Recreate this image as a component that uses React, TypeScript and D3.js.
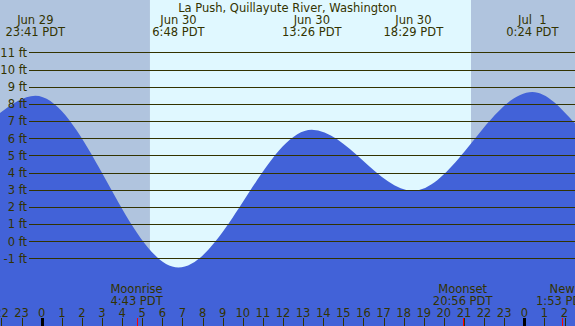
import React from "react";
import * as d3 from "d3";

const W = 575;
const H = 326;

const title = "La Push, Quillayute River, Washington";

// Tide extremes (hours relative to Jun 30 00:00 PDT)
const tideDayLabels = ["Jun 29", "Jun 30", "Jun 30", "Jun 30", "Jul  1"];
const tideClock = ["23:41", "6:48", "13:26", "18:29", "0:24"];
const tideDayOffset = [-1, 0, 0, 0, 1];
const tideHeights = [8.47, -1.53, 6.5, 2.94, 8.7];

// Heights read at the left and right edges of the picture
const edgeHeights = [7.47, 6.87];

// Sun
const sunriseClock = "5:23";
const sunsetClock = "21:21";

// Moon events
const moonLabels = ["Moonrise", "Moonset", "New"];
const moonClock = ["4:43", "20:56", "1:53"];
const moonDayOffset = [0, 0, 1];

// Axis ticks
const feetTicks = [-1, 0, 1, 2, 3, 4, 5, 6, 7, 8, 9, 10, 11];
const hourTicks = d3.range(-2, 27);

const toHours = (clock: string, dayOff: number) => {
  const [hh, mm] = clock.split(":").map(Number);
  return dayOff * 24 + hh + mm / 60;
};

const NIGHT = "#b0c4de";
const DAY = "#e0f8ff";
const WATER = "#4262d8";
const INK = "#333300";
const FONT = "DejaVu Sans";
const FS = 11.5;

export default function App() {
  const x = d3.scaleLinear().domain([0, 24]).range([41.7, 524.3]);
  const y = d3.scaleLinear().domain([-1, 11]).range([258.4, 52.4]);

  const extremes = tideClock.map((c, i) => ({
    h: toHours(c, tideDayOffset[i]),
    v: tideHeights[i],
  }));
  const pts = [
    { h: x.invert(0), v: edgeHeights[0] },
    ...extremes,
    { h: x.invert(W), v: edgeHeights[1] },
  ];

  const area = d3
    .area<{ h: number; v: number }>()
    .x((d) => x(d.h))
    .y0(H)
    .y1((d) => y(d.v))
    .curve(d3.curveMonotoneX);

  const sunrise = x(toHours(sunriseClock, 0));
  const sunset = x(toHours(sunsetClock, 0));

  const moons = moonClock.map((c, i) => ({
    label: moonLabels[i],
    clock: c,
    xpos: x(toHours(c, moonDayOffset[i])),
  }));

  const txt = {
    fontFamily: FONT,
    fontSize: FS,
    fill: INK,
    whiteSpace: "pre" as const,
  };

  return (
    <svg
      width={W}
      height={H}
      style={{ position: "absolute", left: 0, top: 0, display: "block" }}
    >
      {/* background */}
      <rect x={0} y={0} width={W} height={H} fill={NIGHT} />
      <rect x={sunrise} y={0} width={sunset - sunrise} height={H} fill={DAY} />

      {/* water */}
      <path d={area(pts) || ""} fill={WATER} />

      {/* grid lines */}
      {feetTicks.map((f) => (
        <g key={f}>
          <line
            x1={29}
            x2={W}
            y1={Math.round(y(f)) + 0.5}
            y2={Math.round(y(f)) + 0.5}
            stroke={INK}
            strokeWidth={1}
            shapeRendering="crispEdges"
          />
          <text x={27} y={y(f) + 4.3} textAnchor="end" style={txt}>
            {`${f} ft`}
          </text>
        </g>
      ))}

      {/* title */}
      <text x={W / 2} y={11.5} textAnchor="middle" style={txt}>
        {title}
      </text>

      {/* tide labels */}
      {extremes.map((e, i) => (
        <g key={i}>
          <text x={x(e.h)} y={24} textAnchor="middle" style={txt}>
            {tideDayLabels[i]}
          </text>
          <text x={x(e.h)} y={36} textAnchor="middle" style={txt}>
            {`${tideClock[i]} PDT`}
          </text>
        </g>
      ))}

      {/* hour ticks */}
      {hourTicks.map((h) => {
        const hr = ((h % 24) + 24) % 24;
        const px = x(h);
        const midnight = hr === 0;
        return (
          <g key={h}>
            <text x={px} y={316.5} textAnchor="middle" style={txt}>
              {String(hr)}
            </text>
            <line
              x1={Math.round(px) + 0.5}
              x2={Math.round(px) + 0.5}
              y1={318}
              y2={H}
              stroke={midnight ? "#000000" : INK}
              strokeWidth={midnight ? 3 : 1}
              shapeRendering="crispEdges"
            />
          </g>
        );
      })}

      {/* moon events */}
      {moons.map((m, i) => (
        <g key={i}>
          <text x={m.xpos} y={293} textAnchor="middle" style={txt}>
            {m.label}
          </text>
          <text x={m.xpos} y={304.5} textAnchor="middle" style={txt}>
            {`${m.clock} PDT`}
          </text>
          <line
            x1={Math.round(m.xpos) + 0.5}
            x2={Math.round(m.xpos) + 0.5}
            y1={318}
            y2={H}
            stroke="#ff0000"
            strokeWidth={1}
            shapeRendering="crispEdges"
          />
        </g>
      ))}
    </svg>
  );
}
